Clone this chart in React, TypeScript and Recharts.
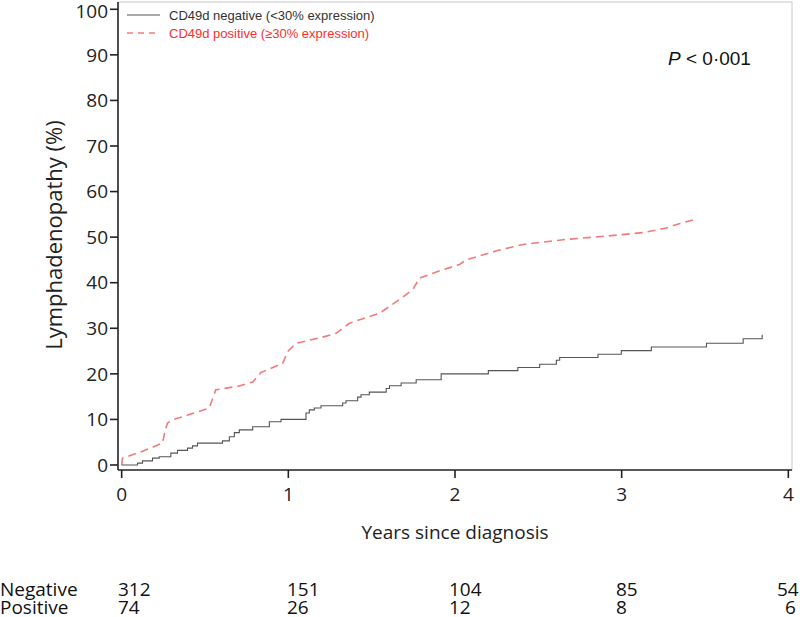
import React from 'react';
import { LineChart, Line, XAxis, YAxis, ReferenceLine } from 'recharts';

// Years since diagnosis (x) and cumulative lymphadenopathy % (y)
const negYears = [0, 0.095, 0.125, 0.185, 0.225, 0.295, 0.335, 0.395, 0.425, 0.455, 0.605, 0.646, 0.676, 0.706, 0.786, 0.886, 0.956, 1.106, 1.126, 1.156, 1.196, 1.326, 1.346, 1.416, 1.436, 1.486, 1.587, 1.607, 1.677, 1.767, 1.917, 2.2, 2.377, 2.508, 2.608, 2.628, 2.858, 2.998, 3.178, 3.509, 3.729, 3.843];
const negValues = [0, 0.4, 0.9, 1.5, 1.8, 2.6, 3.2, 3.7, 4.2, 4.8, 5.3, 6.2, 7.1, 7.7, 8.4, 9.5, 10, 11.4, 12.1, 12.5, 13, 13.6, 14.1, 14.9, 15.4, 16, 16.8, 17.4, 18, 18.7, 20, 20.7, 21.4, 22.1, 23.0, 23.6, 24.3, 25.1, 25.9, 26.7, 27.7, 28.6];

const posYears = [0, 0.005, 0.125, 0.245, 0.26, 0.275, 0.305, 0.4, 0.525, 0.545, 0.565, 0.7, 0.786, 0.836, 0.966, 0.996, 1.046, 1.2, 1.286, 1.366, 1.547, 1.667, 1.747, 1.787, 1.9, 2.027, 2.067, 2.25, 2.407, 2.668, 2.9, 3.128, 3.268, 3.35, 3.43];
const posValues = [0, 1.5, 3, 4.8, 7.5, 9.2, 9.9, 11, 12.5, 14.5, 16.5, 17.3, 18.2, 20.3, 22.3, 24.9, 26.7, 28, 28.9, 31.1, 33.3, 36.3, 38.5, 41, 42.5, 44, 45, 47, 48.4, 49.5, 50.2, 51, 52, 53, 53.8];

const xTicks = [0, 1, 2, 3, 4];
const yTicks = [0, 10, 20, 30, 40, 50, 60, 70, 80, 90, 100];

const riskGroups = ['Negative', 'Positive'];
const negAtRisk = ['312', '151', '104', '85', '54'];
const posAtRisk = ['74', '26', '12', '8', '6'];

const legendLabels = ['CD49d negative (<30% expression)', 'CD49d positive (≥30% expression)'];

const negData = negYears.map((t, i) => ({ t, v: negValues[i] }));
const posData = posYears.map((t, i) => ({ t, v: posValues[i] }));

const X_MIN = -0.022;
const X_MAX = 4.022;
const Y_MIN = -1.1;
const Y_MAX = 101.6;

const tickFont = { fontFamily: 'Open Sans', fontSize: 19, fill: '#222' };

const negCols = [118, 287, 449, 616, 777];
const posCols = [118, 287, 449, 616, 785];

export default function App() {
  return (
    <div style={{ position: 'absolute', left: 0, top: 0, width: 800, height: 617, background: '#fff' }}>
      <LineChart
        width={800}
        height={617}
        margin={{ top: 2, right: 8, left: 0, bottom: 107 }}
      >
        <XAxis
          type="number"
          dataKey="t"
          domain={[X_MIN, X_MAX]}
          allowDataOverflow
          ticks={xTicks}
          tick={tickFont}
          tickSize={8}
          tickMargin={10}
          height={40}
          axisLine={{ stroke: '#222', strokeWidth: 1.6 }}
          tickLine={{ stroke: '#222', strokeWidth: 1.6 }}
        />
        <YAxis
          type="number"
          dataKey="v"
          domain={[Y_MIN, Y_MAX]}
          allowDataOverflow
          ticks={yTicks}
          tick={tickFont}
          tickSize={8}
          tickMargin={2}
          width={118}
          axisLine={{ stroke: '#222', strokeWidth: 1.6 }}
          tickLine={{ stroke: '#222', strokeWidth: 1.6 }}
        />
        <ReferenceLine y={Y_MAX} stroke="#c8c8c8" strokeWidth={1} />
        <ReferenceLine x={X_MAX} stroke="#c8c8c8" strokeWidth={1} />
        <Line
          data={posData}
          dataKey="v"
          type="linear"
          stroke="#f47a7a"
          strokeWidth={1.6}
          strokeDasharray="8 5"
          dot={false}
          isAnimationActive={false}
        />
        <Line
          data={negData}
          dataKey="v"
          type="stepAfter"
          stroke="#555"
          strokeWidth={1.1}
          dot={false}
          isAnimationActive={false}
        />
      </LineChart>
      <svg
        width={800}
        height={617}
        style={{ position: 'absolute', left: 0, top: 0, pointerEvents: 'none' }}
      >
        {/* legend */}
        <line x1={127} y1={15} x2={160} y2={15} stroke="#555" strokeWidth={1.1} />
        <text x={169} y={20} fontFamily="Liberation Sans" fontSize={13} fill="#333">{legendLabels[0]}</text>
        <line x1={127} y1={33} x2={160} y2={33} stroke="#f47a7a" strokeWidth={1.4} strokeDasharray="6 5" />
        <text x={169} y={38} fontFamily="Liberation Sans" fontSize={13} fill="#ff2d2d">{legendLabels[1]}</text>
        {/* p value */}
        <text x={668} y={65} fontFamily="Liberation Sans" fontSize={19} fill="#111">
          <tspan fontStyle="italic">P</tspan>
          <tspan> &lt; 0·001</tspan>
        </text>
        {/* axis titles */}
        <text
          x={0}
          y={0}
          transform="translate(62,235) rotate(-90)"
          textAnchor="middle"
          fontFamily="Open Sans"
          fontSize={22}
          fill="#222"
        >
          Lymphadenopathy (%)
        </text>
        <text x={455} y={539} textAnchor="middle" fontFamily="Open Sans" fontSize={19} fill="#222">
          Years since diagnosis
        </text>
        {/* numbers at risk */}
        <text x={0} y={596} fontFamily="Open Sans" fontSize={19} fill="#111">{riskGroups[0]}</text>
        <text x={0} y={614} fontFamily="Open Sans" fontSize={19} fill="#111">{riskGroups[1]}</text>
        {negAtRisk.map((n, i) => (
          <text key={'n' + i} x={negCols[i]} y={596} fontFamily="Open Sans" fontSize={19} fill="#111">{n}</text>
        ))}
        {posAtRisk.map((n, i) => (
          <text key={'p' + i} x={posCols[i]} y={614} fontFamily="Open Sans" fontSize={19} fill="#111">{n}</text>
        ))}
      </svg>
    </div>
  );
}
